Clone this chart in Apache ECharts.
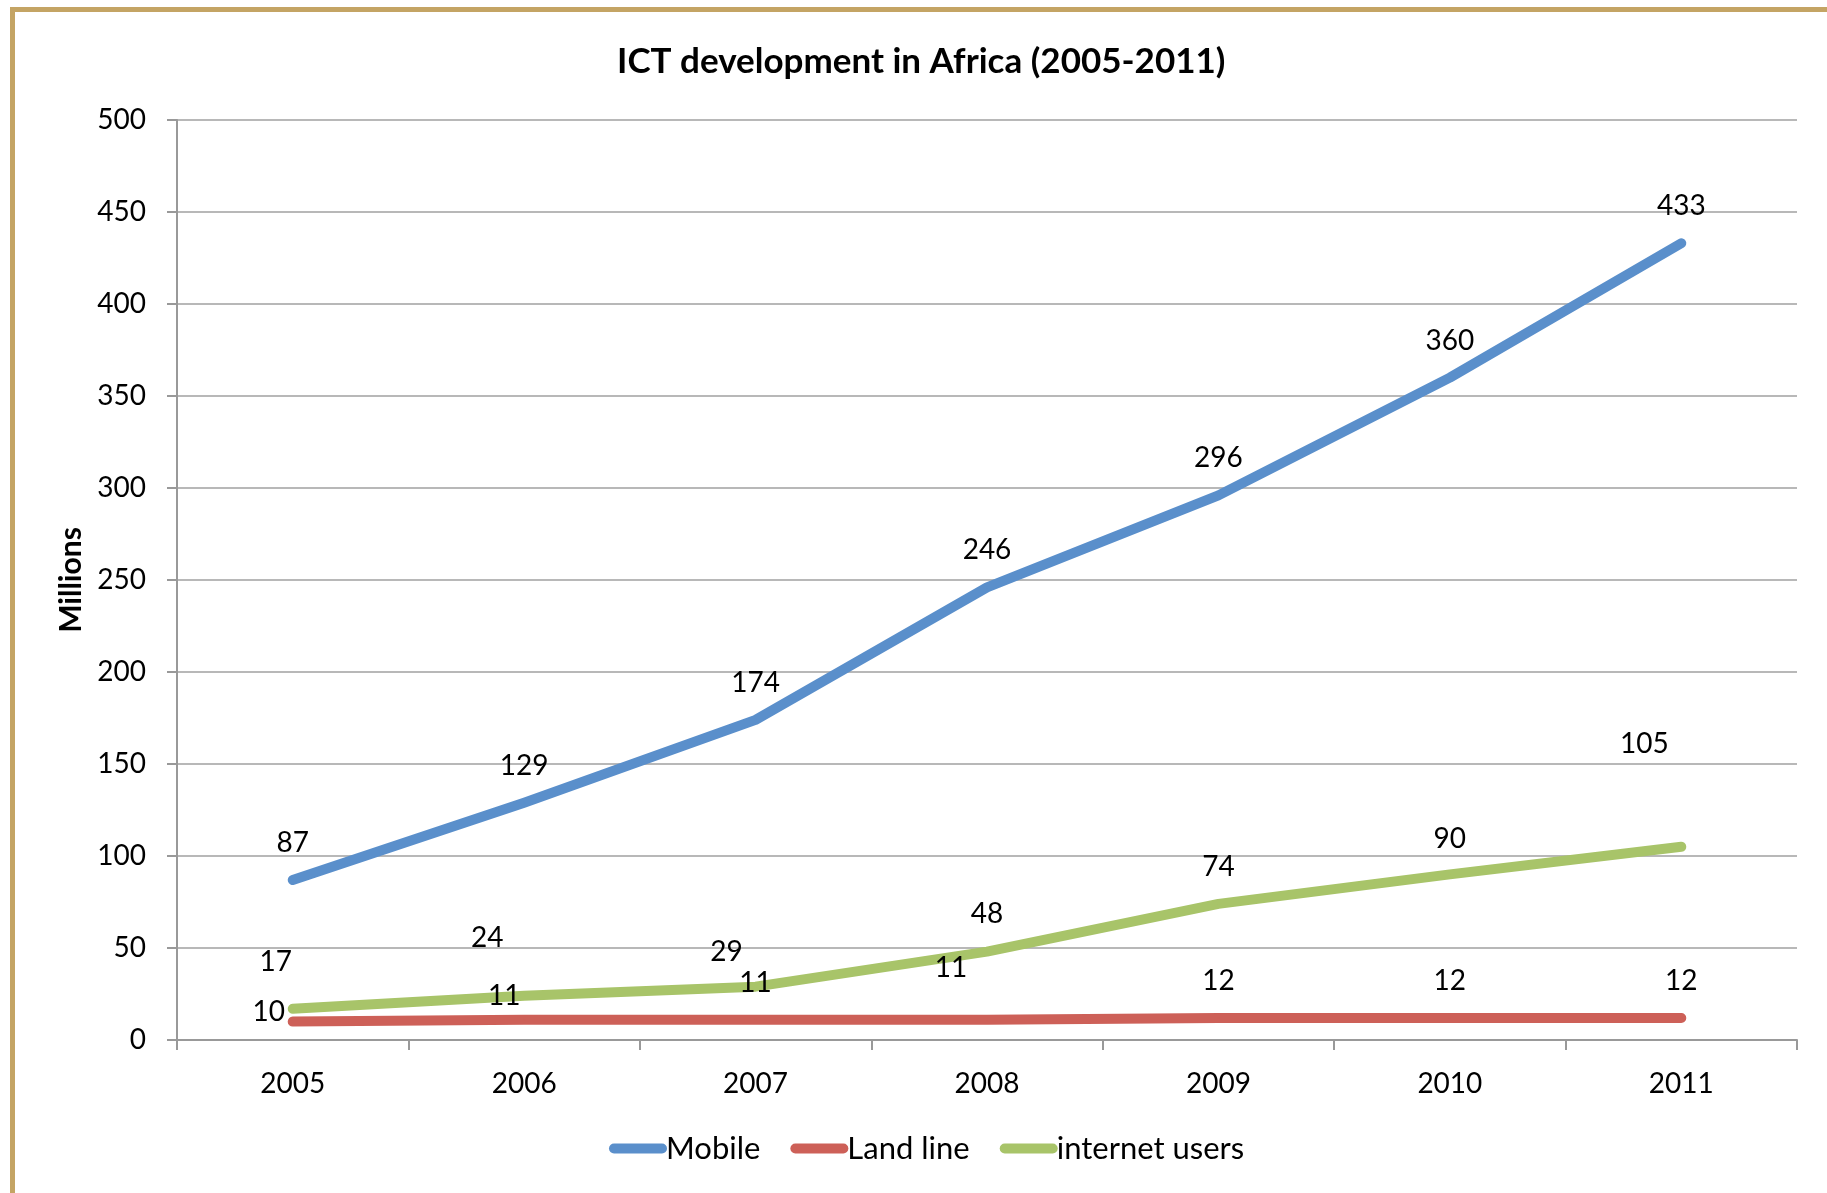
<!DOCTYPE html>
<html>
<head>
<meta charset="utf-8">
<script src="https://cdn.jsdelivr.net/npm/echarts@6/dist/echarts.min.js"></script>
<style>
html,body{margin:0;padding:0;background:#fff;}
#chart{width:1827px;height:1193px;}
</style>
</head>
<body>
<div id="chart"></div>
<script>
// ---- data ----
const years = ['2005','2006','2007','2008','2009','2010','2011'];
const mobile = [87, 129, 174, 246, 296, 360, 433];
const landLine = [10, 11, 11, 11, 12, 12, 12];
const internetUsers = [17, 24, 29, 48, 74, 90, 105];
const yTicks = {min: 0, max: 500, interval: 50};

// ---- label placement (style, px offsets from each point) ----
const mobileLabelOffsets = [[0,-37],[0,-37],[0,-37],[0,-37],[0,-37],[0,-37],[0,-37]];
const landLabelOffsets = [[-24,-10],[-20,-24],[0,-37],[-36,-52],[0,-37],[0,-37],[0,-37]];
const internetLabelOffsets = [[-17,-47],[-37,-58],[-29,-35],[0,-38],[0,-37],[0,-35],[-37,-103]];

const FONT = 'Lato, "Open Sans", sans-serif';
const chart = echarts.init(document.getElementById('chart'));

function withLabels(values, offsets) {
  return values.map((v, i) => ({ value: v, label: { offset: offsets[i] } }));
}
function lineSeries(name, values, offsets, color) {
  return {
    name: name,
    type: 'line',
    data: withLabels(values, offsets),
    symbol: 'circle',
    symbolSize: 2,
    itemStyle: { color: color },
    lineStyle: { color: color, width: 10, cap: 'round', join: 'round' },
    label: {
      show: true,
      position: 'inside',
      color: '#000',
      fontFamily: FONT,
      fontSize: 28
    },
    emphasis: { disabled: true },
    animation: false
  };
}

const capsule = 'path://M5,0 L53,0 A5,5 0 0 1 53,10 L5,10 A5,5 0 0 1 5,0 Z';

chart.setOption({
  backgroundColor: '#fff',
  animation: false,
  title: {
    text: 'ICT development in Africa (2005-2011)',
    left: 612,
    top: 39,
    textStyle: { fontFamily: FONT, fontWeight: 'bold', fontSize: 35, color: '#000' }
  },
  graphic: [
    { type: 'rect', shape: { x: 10, y: 7, width: 1817, height: 5 }, style: { fill: '#C4A464' } },
    { type: 'rect', shape: { x: 10, y: 7, width: 5, height: 1186 }, style: { fill: '#C4A464' } }
  ],
  legend: {
    left: 604,
    top: 1128,
    icon: capsule,
    itemWidth: 58,
    itemHeight: 11,
    itemGap: 30,
    textStyle: { fontFamily: FONT, fontSize: 31, color: '#000', padding: [0, 0, 0, -6] },
    data: ['Mobile', 'Land line', 'internet users']
  },
  grid: { left: 177, right: 30, top: 120, bottom: 153 },
  xAxis: {
    type: 'category',
    data: years,
    boundaryGap: true,
    axisLine: { lineStyle: { color: '#999', width: 2 } },
    axisTick: { show: true, length: 10, lineStyle: { color: '#999', width: 2 } },
    axisLabel: { color: '#000', fontFamily: FONT, fontSize: 28, margin: 30 },
    splitLine: { show: false }
  },
  yAxis: {
    type: 'value',
    min: yTicks.min,
    max: yTicks.max,
    interval: yTicks.interval,
    name: 'Millions',
    nameLocation: 'middle',
    nameGap: 89,
    nameRotate: 90,
    nameTextStyle: { fontFamily: FONT, fontWeight: 'bold', fontSize: 30, color: '#000' },
    axisLine: { show: true, lineStyle: { color: '#999', width: 2 } },
    axisTick: { show: true, length: 10, lineStyle: { color: '#999', width: 2 } },
    axisLabel: { color: '#000', fontFamily: FONT, fontSize: 28, margin: 31 },
    splitLine: { show: true, lineStyle: { color: '#a0a0a0', width: 1.5 } }
  },
  series: [
    lineSeries('Mobile', mobile, mobileLabelOffsets, '#5A8FCB'),
    lineSeries('Land line', landLine, landLabelOffsets, '#CD6058'),
    lineSeries('internet users', internetUsers, internetLabelOffsets, '#A8C469')
  ]
});
</script>
</body>
</html>
